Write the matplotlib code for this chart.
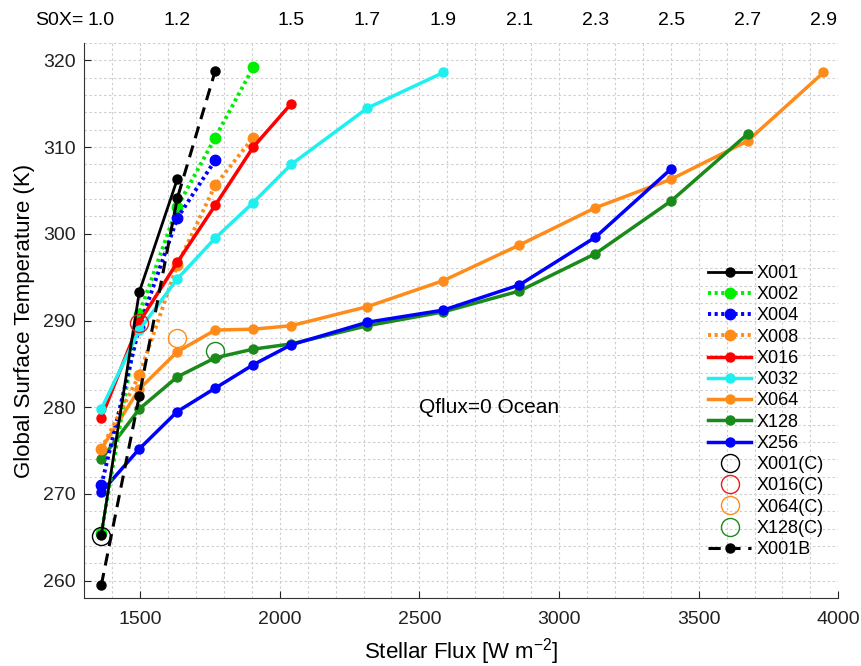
import matplotlib
matplotlib.use("Agg")
import matplotlib.pyplot as plt
from matplotlib.ticker import MultipleLocator
import matplotlib.transforms as mtransforms

plt.rcParams['font.family'] = ['Liberation Sans', 'DejaVu Sans']
plt.rcParams['mathtext.fontset'] = 'custom'
plt.rcParams['mathtext.rm'] = 'Liberation Sans'
plt.rcParams['mathtext.it'] = 'Liberation Sans:italic'
plt.rcParams['mathtext.default'] = 'regular'

# ---- data ----
S0 = 1361.0

x001_x = [1361, 1497, 1633]
x001_y = [265.3, 293.3, 306.3]

x002_x = [1361, 1497, 1633, 1769, 1905]
x002_y = [265.5, 290.8, 303.1, 311.1, 319.2]

x004_x = [1361, 1497, 1633, 1769]
x004_y = [271.0, 289.3, 301.8, 308.5]

x008_x = [1361, 1497, 1633, 1769, 1905]
x008_y = [275.2, 283.7, 296.4, 305.6, 311.1]

x016_x = [1361, 1497, 1633, 1769, 1905, 2041]
x016_y = [278.8, 289.8, 296.7, 303.3, 310.0, 315.0]

x032_x = [1361, 1497, 1633, 1769, 1905, 2041, 2314, 2586]
x032_y = [279.8, 288.9, 294.8, 299.5, 303.6, 308.0, 314.5, 318.6]

x064_x = [1361, 1497, 1633, 1769, 1905, 2041, 2314, 2586, 2858, 3130, 3402, 3675, 3947]
x064_y = [275.2, 282.1, 286.4, 288.9, 289.0, 289.4, 291.6, 294.6, 298.7, 303.0, 306.3, 310.7, 318.6]

x128_x = [1361, 1497, 1633, 1769, 1905, 2041, 2314, 2586, 2858, 3130, 3402, 3675]
x128_y = [274.0, 279.8, 283.5, 285.7, 286.7, 287.3, 289.4, 291.0, 293.4, 297.7, 303.8, 311.5]

x256_x = [1361, 1497, 1633, 1769, 1905, 2041, 2314, 2586, 2858, 3130, 3402]
x256_y = [270.2, 275.2, 279.5, 282.2, 284.9, 287.2, 289.8, 291.2, 294.1, 299.6, 307.5]

c001_x, c001_y = [1361], [265.1]
c016_x, c016_y = [1497], [289.7]
c064_x, c064_y = [1633], [288.0]
c128_x, c128_y = [1769], [286.5]

x001b_x = [1361, 1497, 1633, 1769]
x001b_y = [259.5, 281.3, 304.1, 318.8]

s0x_labels = ['1.0', '1.2', '1.5', '1.7', '1.9', '2.1', '2.3', '2.5', '2.7', '2.9']
s0x_values = [1.0, 1.2, 1.5, 1.7, 1.9, 2.1, 2.3, 2.5, 2.7, 2.9]

# ---- colours ----
c_green = '#00ee00'
c_blue = '#0000ff'
c_orange = '#ff8c1a'
c_red = '#ff0000'
c_cyan = '#1ef0f0'
c_dgreen = '#1a8a1a'

fig = plt.figure(figsize=(8.62, 6.66), dpi=100)
ax = fig.add_axes([84.3/862, 68/666, (838.3-84.3)/862, (598-43)/666])

ms = 6.5
dot = (0, (0.8, 0.9))
ax.plot(x001_x, x001_y, '-', color='black', lw=2.0, marker='o', ms=ms, label='X001', zorder=5)
ax.plot(x002_x, x002_y, linestyle=dot, color=c_green, lw=2.8, marker='o', ms=ms+1, label='X002', zorder=4)
ax.plot(x004_x, x004_y, linestyle=dot, color=c_blue, lw=2.8, marker='o', ms=ms+1, label='X004', zorder=4)
ax.plot(x008_x, x008_y, linestyle=dot, color=c_orange, lw=2.8, marker='o', ms=ms+1, label='X008', zorder=4)
ax.plot(x016_x, x016_y, '-', color=c_red, lw=2.5, marker='o', ms=ms, label='X016', zorder=4)
ax.plot(x032_x, x032_y, '-', color=c_cyan, lw=2.5, marker='o', ms=ms, label='X032', zorder=4)
ax.plot(x064_x, x064_y, '-', color=c_orange, lw=2.5, marker='o', ms=ms, label='X064', zorder=3)
ax.plot(x128_x, x128_y, '-', color=c_dgreen, lw=2.5, marker='o', ms=ms, label='X128', zorder=3)
ax.plot(x256_x, x256_y, '-', color=c_blue, lw=2.5, marker='o', ms=ms, label='X256', zorder=3)
ax.plot(c001_x, c001_y, 'o', mfc='none', mec='black', ms=13, mew=1.0, label='X001(C)', zorder=6)
ax.plot(c016_x, c016_y, 'o', mfc='none', mec='#dd2020', ms=13, mew=1.0, label='X016(C)', zorder=6)
ax.plot(c064_x, c064_y, 'o', mfc='none', mec=c_orange, ms=13, mew=1.0, label='X064(C)', zorder=6)
ax.plot(c128_x, c128_y, 'o', mfc='none', mec=c_dgreen, ms=13, mew=1.0, label='X128(C)', zorder=6)
ax.plot(x001b_x, x001b_y, linestyle=(0, (4, 2.5)), color='black', lw=2.2, marker='o', ms=ms, label='X001B', zorder=5)

ax.set_xlim(1300, 4000)
ax.set_ylim(258, 322)
ax.xaxis.set_major_locator(MultipleLocator(500))
ax.xaxis.set_minor_locator(MultipleLocator(100))
ax.yaxis.set_major_locator(MultipleLocator(10))
ax.yaxis.set_minor_locator(MultipleLocator(2))
ax.grid(which='both', color='#cfcfcf', linestyle=(0, (2.2, 2.2)), lw=0.8)
ax.set_axisbelow(True)
for s in ['top', 'right']:
    ax.spines[s].set_visible(False)
ax.spines['left'].set_color('#333333')
ax.spines['bottom'].set_color('#333333')
ax.tick_params(which='major', direction='in', length=5, labelsize=14, colors='#222222')
ax.tick_params(which='minor', length=0)
ax.tick_params(axis='x', pad=9)
ax.tick_params(axis='y', pad=6)

ax.set_xlabel('Stellar Flux [W m$^{-2}$]', fontsize=16, labelpad=6)
ax.set_ylabel('Global Surface Temperature (K)', fontsize=16, labelpad=6)

ax.text(2499, 280.0, 'Qflux=0 Ocean', fontsize=15, ha='left', va='center')

trans = mtransforms.blended_transform_factory(ax.transData, ax.transAxes)
for lab, v in zip(s0x_labels, s0x_values):
    ax.text(v * S0, 1.04, lab, transform=trans, ha='center', va='center', fontsize=14, clip_on=False)
ax.annotate('S0X=', xy=(s0x_values[0] * S0, 1.04), xycoords=trans,
            xytext=(-13, 0), textcoords='offset points', ha='right', va='center', fontsize=14)

leg = fig.legend(*ax.get_legend_handles_labels(), loc='upper left',
                 bbox_to_anchor=(708/862, 1 - 265/666), frameon=False,
                 fontsize=13, handlelength=2.4, handletextpad=0.3,
                 labelspacing=0.235, borderpad=0, borderaxespad=0, numpoints=1)

fig.savefig('out.png', dpi=100)
